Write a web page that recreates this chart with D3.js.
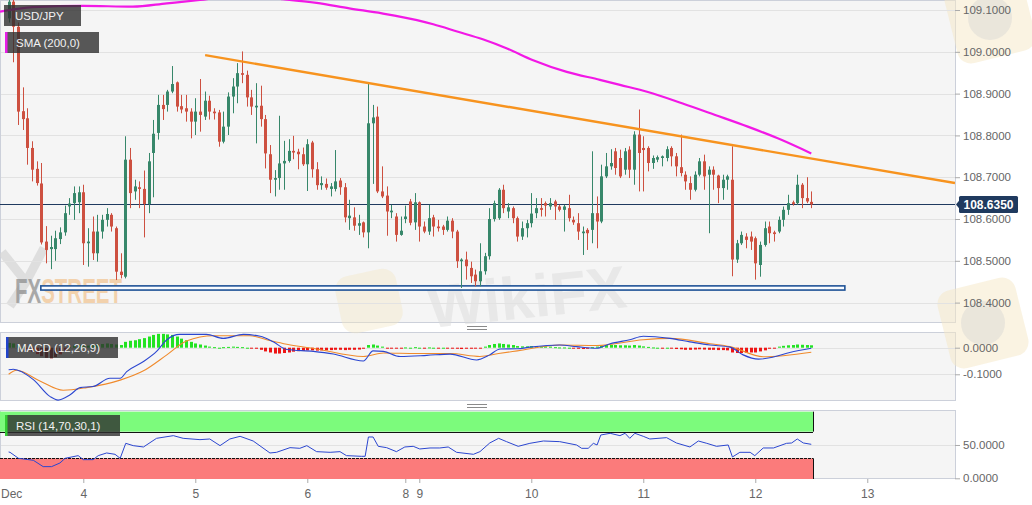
<!DOCTYPE html>
<html>
<head>
<meta charset="utf-8">
<script src="https://cdn.jsdelivr.net/npm/d3@7"></script>
<style>
  body { margin: 0; background: #fff; }
  svg { display: block; font-family: "Liberation Sans", Arial, sans-serif; }
</style>
</head>
<body>
<div id="chart"></div>
<script>
// hourly candles, index 0 of the arrays is candle k = -1 (Dec 3 08:00)
const firstIndex = -1;
const opens = [109.080,109.120,109.060,108.858,108.841,108.770,108.720,108.685,108.546,108.528,108.528,108.552,108.568,108.630,108.638,108.640,108.664,108.542,108.570,108.518,108.570,108.598,108.610,108.578,108.474,108.462,108.742,108.666,108.676,108.672,108.636,108.758,108.806,108.873,108.873,108.905,108.927,108.870,108.865,108.857,108.833,108.857,108.845,108.883,108.857,108.855,108.785,108.821,108.893,108.917,108.949,108.945,108.891,108.867,108.871,108.839,108.755,108.694,108.698,108.733,108.739,108.763,108.761,108.755,108.731,108.783,108.719,108.681,108.684,108.672,108.672,108.692,108.676,108.602,108.604,108.584,108.592,108.568,108.829,108.845,108.666,108.656,108.616,108.606,108.562,108.600,108.642,108.592,108.640,108.582,108.570,108.604,108.582,108.582,108.574,108.596,108.570,108.499,108.503,108.483,108.467,108.451,108.475,108.511,108.600,108.602,108.670,108.618,108.626,108.602,108.558,108.578,108.590,108.614,108.626,108.638,108.630,108.642,108.630,108.622,108.626,108.598,108.590,108.566,108.574,108.574,108.614,108.594,108.702,108.726,108.762,108.746,108.718,108.766,108.718,108.802,108.770,108.770,108.734,108.742,108.746,108.746,108.770,108.750,108.724,108.706,108.686,108.670,108.706,108.738,108.706,108.718,108.704,108.674,108.694,108.694,108.503,108.542,108.558,108.558,108.554,108.490,108.538,108.582,108.568,108.570,108.598,108.622,108.640,108.638,108.682,108.650,108.641];
const highs = [109.150,109.140,109.070,108.915,108.865,108.786,108.738,108.734,108.583,108.560,108.572,108.580,108.632,108.650,108.678,108.678,108.682,108.578,108.606,108.610,108.610,108.626,108.614,108.582,108.518,108.798,108.770,108.694,108.690,108.716,108.758,108.837,108.897,108.897,108.909,108.966,108.929,108.897,108.897,108.865,108.889,108.935,108.905,108.895,108.865,108.861,108.857,108.903,108.937,108.973,109.001,108.955,108.909,108.925,108.919,108.849,108.777,108.717,108.847,108.787,108.791,108.799,108.768,108.771,108.791,108.787,108.736,108.702,108.697,108.686,108.765,108.698,108.686,108.646,108.628,108.610,108.594,108.925,108.873,108.869,108.726,108.678,108.634,108.614,108.606,108.632,108.648,108.662,108.642,108.594,108.634,108.610,108.598,108.586,108.606,108.602,108.574,108.506,108.522,108.498,108.479,108.542,108.519,108.626,108.644,108.674,108.682,108.638,108.630,108.606,108.594,108.598,108.662,108.650,108.650,108.642,108.650,108.646,108.634,108.634,108.658,108.606,108.614,108.582,108.578,108.762,108.654,108.730,108.758,108.767,108.770,108.766,108.770,108.774,108.810,108.862,108.798,108.774,108.752,108.752,108.752,108.774,108.774,108.758,108.802,108.714,108.702,108.714,108.746,108.754,108.726,108.726,108.706,108.706,108.706,108.774,108.550,108.570,108.566,108.570,108.558,108.546,108.594,108.594,108.572,108.606,108.630,108.658,108.644,108.706,108.686,108.700,108.666];
const lows = [109.070,108.975,108.825,108.813,108.730,108.690,108.680,108.539,108.494,108.480,108.500,108.540,108.560,108.610,108.598,108.614,108.490,108.486,108.502,108.498,108.553,108.582,108.570,108.454,108.458,108.458,108.626,108.646,108.626,108.556,108.614,108.652,108.790,108.837,108.857,108.901,108.857,108.853,108.833,108.793,108.801,108.809,108.837,108.838,108.838,108.773,108.781,108.801,108.853,108.877,108.925,108.869,108.849,108.781,108.821,108.721,108.662,108.654,108.670,108.670,108.735,108.743,108.719,108.727,108.667,108.699,108.670,108.670,108.670,108.654,108.666,108.658,108.592,108.574,108.572,108.562,108.556,108.530,108.684,108.662,108.650,108.560,108.602,108.546,108.560,108.590,108.585,108.574,108.546,108.566,108.562,108.558,108.570,108.562,108.570,108.554,108.483,108.435,108.455,108.447,108.439,108.439,108.467,108.503,108.594,108.598,108.614,108.602,108.590,108.546,108.550,108.556,108.580,108.602,108.606,108.606,108.622,108.598,108.618,108.570,108.594,108.586,108.550,108.514,108.526,108.542,108.530,108.590,108.698,108.718,108.706,108.698,108.706,108.698,108.682,108.666,108.666,108.714,108.720,108.736,108.726,108.738,108.726,108.702,108.702,108.670,108.646,108.666,108.702,108.670,108.566,108.670,108.638,108.646,108.670,108.463,108.495,108.538,108.530,108.526,108.455,108.462,108.534,108.542,108.546,108.566,108.582,108.610,108.632,108.634,108.626,108.638,108.626];
const closes = [109.120,109.060,108.857,108.839,108.770,108.718,108.686,108.544,108.526,108.533,108.554,108.568,108.614,108.637,108.662,108.664,108.542,108.546,108.518,108.570,108.598,108.612,108.582,108.474,108.466,108.742,108.662,108.678,108.672,108.636,108.738,108.804,108.873,108.863,108.905,108.923,108.869,108.862,108.857,108.833,108.857,108.849,108.883,108.857,108.853,108.785,108.821,108.893,108.917,108.949,108.945,108.891,108.869,108.871,108.839,108.757,108.694,108.698,108.733,108.739,108.763,108.759,108.755,108.731,108.779,108.719,108.681,108.686,108.675,108.678,108.690,108.676,108.604,108.608,108.584,108.590,108.568,108.829,108.843,108.666,108.654,108.618,108.620,108.562,108.572,108.606,108.591,108.640,108.582,108.570,108.602,108.582,108.578,108.574,108.596,108.570,108.499,108.503,108.487,108.463,108.451,108.475,108.511,108.600,108.638,108.670,108.626,108.628,108.602,108.558,108.578,108.590,108.613,108.626,108.622,108.632,108.638,108.630,108.622,108.630,108.602,108.592,108.570,108.570,108.566,108.614,108.594,108.702,108.726,108.734,108.722,108.702,108.762,108.718,108.802,108.758,108.765,108.734,108.746,108.748,108.750,108.767,108.750,108.726,108.710,108.690,108.670,108.706,108.738,108.702,108.718,108.706,108.674,108.694,108.702,108.503,108.542,108.562,108.550,108.546,108.494,108.538,108.578,108.566,108.564,108.598,108.622,108.638,108.636,108.682,108.650,108.642,108.635];

// MACD histogram, one bar per candle
const macdHist = [0.018,0.016,0.010,0.002,-0.006,-0.015,-0.024,-0.032,-0.038,-0.040,-0.035,-0.025,-0.012,0.004,0.008,0.010,0.006,0.008,0.010,0.012,0.014,0.016,0.014,0.012,0.010,0.022,0.026,0.028,0.032,0.036,0.042,0.048,0.052,0.052,0.050,0.048,0.042,0.034,0.028,0.022,0.016,0.012,0.008,0.004,0.002,0.000,0.002,0.003,0.004,0.003,0.002,0.000,-0.002,-0.004,-0.008,-0.014,-0.018,-0.022,-0.022,-0.020,-0.018,-0.015,-0.013,-0.012,-0.010,-0.010,-0.011,-0.010,-0.010,-0.009,-0.008,-0.008,-0.009,-0.008,-0.008,-0.007,-0.004,0.010,0.012,0.008,0.004,-0.002,-0.002,-0.003,-0.002,0.001,0.000,0.002,0.000,-0.001,0.001,0.000,-0.001,0.000,-0.002,-0.003,-0.004,-0.005,-0.004,-0.004,-0.003,-0.001,0.004,0.010,0.014,0.016,0.014,0.012,0.010,0.006,0.005,0.005,0.006,0.006,0.005,0.005,0.004,0.002,0.001,0.001,0.000,-0.002,-0.004,-0.005,-0.004,0.002,0.004,0.008,0.010,0.011,0.010,0.009,0.009,0.008,0.010,0.008,0.005,0.003,0.001,0.000,-0.001,0.000,-0.003,-0.005,-0.006,-0.008,-0.008,-0.007,-0.006,-0.007,-0.008,-0.008,-0.009,-0.009,-0.010,-0.018,-0.020,-0.020,-0.019,-0.018,-0.018,-0.014,-0.010,-0.004,-0.001,0.004,0.007,0.009,0.010,0.012,0.011,0.010,0.009];

// MACD and signal lines, read at candle positions
const macdIdx = [-1,0,4.3,7.9,9.6,12.1,14.3,17.1,20.7,22.9,24.3,27.9,30.7,32.9,35.7,41.4,45,49.3,52.9,55.7,58.6,64.3,68.6,75,77.1,79.3,82.9,88.6,93.6,99.3,102.1,104.3,108,110.7,117.1,120.7,125,127.9,132.1,135,140.7,145,149.3,153.6,156.4,159.7,162.9,166.4,171];
const macdVal = [-0.083,-0.081,-0.120,-0.184,-0.197,-0.178,-0.150,-0.146,-0.115,-0.115,-0.090,-0.052,-0.014,0.030,0.050,0.050,0.035,0.050,0.043,0.022,-0.007,-0.014,-0.024,-0.050,-0.012,-0.014,-0.033,-0.029,-0.024,-0.046,-0.027,-0.005,-0.004,0.002,0.010,0.004,-0.002,0.015,0.030,0.043,0.035,0.022,0.010,0.002,-0.027,-0.043,-0.035,-0.018,-0.002];
const signalIdx = [-1,0.7,5.7,10.7,15.7,22.9,27.9,32.9,37.1,42.9,50.7,54.3,58.6,65,75,79.3,86.4,93.6,100,104,108,117.1,125,135,140.7,149.3,153.6,160.7,171];
const signalVal = [-0.100,-0.085,-0.125,-0.160,-0.150,-0.122,-0.087,-0.027,0.025,0.045,0.045,0.030,0.013,-0.005,-0.033,-0.020,-0.022,-0.022,-0.033,-0.022,-0.012,0.010,0.008,0.030,0.035,0.015,0.004,-0.034,-0.017];

// RSI (14)
const rsiIdx = [-1,-0.7,1.1,4.3,6.4,8.2,10,11.1,13.9,15,17.1,18.2,20,21.8,22.9,24.1,25.7,27.9,30.7,34.3,36.4,40,42.1,44.3,46.4,48.6,51.4,55,56.4,59.3,61.4,62.9,65,67.9,70,71.4,74.6,75.4,76.1,77.1,78.2,80,82.1,83.9,85.7,87.1,89.3,91.4,93.2,95,98.6,100,102.1,104,105.7,108.2,110.7,113.6,117.1,120.7,121.8,123.2,124.3,125.1,125.9,127.9,130,131.1,132.1,133.2,135,136.4,140,142.1,145,146.8,148.6,150.7,153.2,154.1,155.7,157.9,158.9,160.7,162.9,165.7,166.8,168,169.3,171];
const rsiVal = [39.5,39,30,27,17.5,17.5,23,30,34,28,28,34,38,36,30,52.5,49,47,60,64,60,58,59,49,59,63,56,38,39,46,45,49,40,39,40,34,33,33,62,62,48,46,40,47,48,44,45.5,45.5,47,39,36,40,53,60,55,48,52.5,56,55,50,45,45,52.5,50,65,67.5,64,67.5,60,67.5,63,59,61,53,47,56,52.5,48,50,32,39,39,34,45.5,45.5,52.5,53,59,53,51];
const rsiUpper = 70;
const rsiLower = 30;

// 200-period SMA
const smaIdx = [-2.85,4.2,15,25.6,32.9,40,48.6,57.8,65,72,79,86.5,90,95.3,100.6,105.8,111.4,118.6,125.7,130,136,143.3,150.4,157.4,164.7,171];
const smaVal = [109.096,109.107,109.110,109.108,109.116,109.124,109.135,109.126,109.117,109.104,109.092,109.076,109.066,109.048,109.030,109.008,108.980,108.952,108.933,108.921,108.904,108.877,108.849,108.821,108.789,108.757];

// drawn studies
const trendIdx = [41.1, 201.8];
const trendPrice = [108.992, 108.686];
const supportIdx = [5.9, 178.2];
const supportPrice = [108.430, 108.440];
const lastPrice = 108.635;

// axis ticks
const dayTickIdx = [15, 39, 63, 84, 87, 111, 135, 159, 183];
const dayLabels = ["4", "5", "6", "8", "9", "10", "11", "12", "13"];
const monthLabel = "Dec";
const priceTicks = [108.4, 108.5, 108.6, 108.7, 108.8, 108.9, 109.0, 109.1];
const macdTicks = [0, -0.1];
const rsiTicks = [0, 50];

const width = 1032, height = 505;
const plotRight = 955;
const main = {top: 0, bottom: 323};
const macdPane = {top: 332, bottom: 401};
const rsiPane = {top: 410, bottom: 479};

const upColor = "#37876a";
const downColor = "#cd5040";
const axisColor = "#666";

const svg = d3.select("#chart").append("svg")
  .attr("width", width)
  .attr("height", height);

const x = d3.scaleLinear().domain([-2.85, 201.8]).range([0, plotRight]);
const y = d3.scaleLinear().domain([108.3512, 109.124]).range([main.bottom, main.top]);
const yMacd = d3.scaleLinear().domain([-0.2004, 0.059]).range([macdPane.bottom, macdPane.top]);
const yRsi = d3.scaleLinear().domain([-1.05, 102.5]).range([rsiPane.bottom, rsiPane.top]);

const defs = svg.append("defs");
[["clipMain", main], ["clipMacd", macdPane], ["clipRsi", rsiPane]].forEach(([id, p]) => {
  defs.append("clipPath").attr("id", id)
    .append("rect")
    .attr("x", 0).attr("y", p.top)
    .attr("width", plotRight).attr("height", p.bottom - p.top);
});
// two-tone fill for the FXSTREET watermark
const fxGrad = defs.append("linearGradient").attr("id", "fxTone")
  .attr("gradientUnits", "userSpaceOnUse")
  .attr("x1", 15).attr("x2", 122).attr("y1", 0).attr("y2", 0);
[[0, "#8f8f8f"], [0.255, "#8f8f8f"], [0.255, "#f1c594"], [1, "#f1c594"]].forEach(([o, c]) => {
  fxGrad.append("stop").attr("offset", o).attr("stop-color", c);
});

// panel backgrounds
[main, macdPane, rsiPane].forEach(p => {
  svg.append("rect")
    .attr("x", 0.5).attr("y", p.top + 0.5)
    .attr("width", plotRight).attr("height", p.bottom - p.top - 1)
    .attr("fill", "#f5f5f5")
    .attr("stroke", "#ccd0da");
});

// watermarks
const wm = svg.append("g").attr("pointer-events", "none");
wm.append("path")
  .attr("d", "M2,252 L26,282 L10,306 M44,248 L26,282")
  .attr("fill", "none").attr("stroke", "#d4d4d4").attr("stroke-width", 9)
  .attr("opacity", 0.7);
wm.append("text").attr("x", 15).attr("y", 303)
  .attr("font-size", 35).attr("font-weight", "bold")
  .attr("textLength", 107).attr("lengthAdjust", "spacingAndGlyphs")
  .attr("fill", "url(#fxTone)").attr("opacity", 0.75)
  .text("FXSTREET");
wm.append("rect")
  .attr("x", 338).attr("y", 272).attr("width", 62).attr("height", 58).attr("rx", 14)
  .attr("transform", "rotate(-12 369 301)")
  .attr("fill", "#f3e6c4").attr("opacity", 0.4);
wm.append("text").attr("x", 430).attr("y", 328)
  .attr("font-size", 60).attr("font-weight", "bold")
  .attr("transform", "rotate(-6 430 328)")
  .attr("fill", "#d9d9d9").attr("opacity", 0.45).text("WikiFX");
[[983, 323], [990, 18]].forEach(([cx, cy]) => {
  wm.append("rect")
    .attr("x", cx - 40).attr("y", cy - 40).attr("width", 80).attr("height", 80).attr("rx", 14)
    .attr("transform", `rotate(-14 ${cx} ${cy})`)
    .attr("fill", "#f5e8c6").attr("opacity", 0.5);
  wm.append("circle").attr("cx", cx).attr("cy", cy).attr("r", 22)
    .attr("fill", "#d2d2d2").attr("opacity", 0.4);
});

// grid lines
function grid(ticks, scale) {
  svg.append("g").selectAll("line").data(ticks).join("line")
    .attr("x1", 1).attr("x2", plotRight)
    .attr("y1", d => Math.round(scale(d)) + 0.5)
    .attr("y2", d => Math.round(scale(d)) + 0.5)
    .attr("stroke", "#e2e2e2");
}
grid(priceTicks, y);
grid(macdTicks, yMacd);
grid([50], yRsi);

// ---- main panel ----
const gMain = svg.append("g").attr("clip-path", "url(#clipMain)");

gMain.append("rect")
  .attr("x", x(supportIdx[0])).attr("y", y(supportPrice[1]))
  .attr("width", x(supportIdx[1]) - x(supportIdx[0]))
  .attr("height", y(supportPrice[0]) - y(supportPrice[1]))
  .attr("fill", "#f8fbff").attr("stroke", "#1f5296").attr("stroke-width", 1.6);

gMain.append("line")
  .attr("x1", 0).attr("x2", plotRight)
  .attr("y1", Math.round(y(lastPrice)) + 0.5).attr("y2", Math.round(y(lastPrice)) + 0.5)
  .attr("stroke", "#1f3a5f").attr("stroke-width", 1);

const candles = opens.map((o, i) => ({
  k: firstIndex + i, o, h: highs[i], l: lows[i], c: closes[i]
}));

const cg = gMain.append("g").selectAll("g").data(candles).join("g")
  .attr("fill", d => d.c >= d.o ? upColor : downColor)
  .attr("stroke", d => d.c >= d.o ? upColor : downColor);
cg.append("line")
  .attr("x1", d => Math.round(x(d.k)) + 0.5).attr("x2", d => Math.round(x(d.k)) + 0.5)
  .attr("y1", d => y(d.h)).attr("y2", d => y(d.l))
  .attr("stroke-width", 1);
cg.append("rect")
  .attr("x", d => Math.round(x(d.k)) - 1)
  .attr("width", 3)
  .attr("y", d => y(Math.max(d.o, d.c)))
  .attr("height", d => Math.max(1, Math.abs(y(d.o) - y(d.c))))
  .attr("stroke", "none");

gMain.append("path")
  .datum(smaIdx.map((k, i) => [k, smaVal[i]]))
  .attr("fill", "none").attr("stroke", "#f218e6").attr("stroke-width", 2.2)
  .attr("d", d3.line().x(d => x(d[0])).y(d => y(d[1])).curve(d3.curveMonotoneX));

gMain.append("line")
  .attr("x1", x(trendIdx[0])).attr("y1", y(trendPrice[0]))
  .attr("x2", x(trendIdx[1])).attr("y2", y(trendPrice[1]))
  .attr("stroke", "#f7931e").attr("stroke-width", 2.4);

// ---- MACD panel ----
const gMacd = svg.append("g").attr("clip-path", "url(#clipMacd)");
gMacd.append("g").selectAll("rect").data(macdHist).join("rect")
  .attr("x", (d, i) => Math.round(x(firstIndex + i)) - 1)
  .attr("width", 3)
  .attr("y", d => yMacd(Math.max(0, d)))
  .attr("height", d => Math.max(1, Math.abs(yMacd(d) - yMacd(0))))
  .attr("fill", d => d >= 0 ? "#22e322" : (d < -0.025 ? "#8e1414" : "#ee1515"));

gMacd.append("path")
  .datum(signalIdx.map((k, i) => [k, signalVal[i]]))
  .attr("fill", "none").attr("stroke", "#f08a2c").attr("stroke-width", 1.1)
  .attr("d", d3.line().x(d => x(d[0])).y(d => yMacd(d[1])).curve(d3.curveMonotoneX));
gMacd.append("path")
  .datum(macdIdx.map((k, i) => [k, macdVal[i]]))
  .attr("fill", "none").attr("stroke", "#2b46d0").attr("stroke-width", 1.1)
  .attr("d", d3.line().x(d => x(d[0])).y(d => yMacd(d[1])).curve(d3.curveMonotoneX));

// ---- RSI panel ----
const gRsi = svg.append("g").attr("clip-path", "url(#clipRsi)");
const bandRight = Math.round(x(candles[candles.length - 1].k)) + 2;
gRsi.append("rect")
  .attr("x", 0).attr("y", yRsi(100))
  .attr("width", bandRight).attr("height", yRsi(rsiUpper) - yRsi(100))
  .attr("fill", "#7cfb7c");
gRsi.append("rect")
  .attr("x", 0).attr("y", yRsi(rsiLower))
  .attr("width", bandRight).attr("height", yRsi(-1.05) - yRsi(rsiLower))
  .attr("fill", "#fb7b7b");
gRsi.append("line")
  .attr("x1", 0).attr("x2", bandRight)
  .attr("y1", Math.round(yRsi(rsiUpper)) + 0.5).attr("y2", Math.round(yRsi(rsiUpper)) + 0.5)
  .attr("stroke", "#111");
gRsi.append("line")
  .attr("x1", 0).attr("x2", bandRight)
  .attr("y1", Math.round(yRsi(rsiLower)) + 0.5).attr("y2", Math.round(yRsi(rsiLower)) + 0.5)
  .attr("stroke", "#111").attr("stroke-dasharray", "3,1");
[[yRsi(100), yRsi(rsiUpper)], [yRsi(rsiLower), rsiPane.bottom]].forEach(([a, b]) => {
  gRsi.append("line")
    .attr("x1", bandRight + 0.5).attr("x2", bandRight + 0.5)
    .attr("y1", a).attr("y2", b).attr("stroke", "#111");
});
gRsi.append("path")
  .datum(rsiIdx.map((k, i) => [k, rsiVal[i]]))
  .attr("fill", "none").attr("stroke", "#2b46d0").attr("stroke-width", 1)
  .attr("d", d3.line().x(d => x(d[0])).y(d => yRsi(d[1])));

// ---- right axes ----
function rightAxis(scale, ticks) {
  const g = svg.append("g")
    .attr("transform", `translate(${plotRight},0)`)
    .call(d3.axisRight(scale).tickValues(ticks).tickSize(5).tickPadding(3)
      .tickFormat(v => v.toFixed(4)));
  g.select(".domain").remove();
  g.selectAll("line").attr("stroke", "#aaa");
  g.selectAll("text").attr("fill", axisColor).attr("font-size", 11.5)
    .attr("font-family", "'Liberation Sans', Arial, sans-serif");
}
rightAxis(y, priceTicks);
rightAxis(yMacd, macdTicks);
rightAxis(yRsi, rsiTicks);

// last price tag
const ly = y(lastPrice);
svg.append("path")
  .attr("d", `M${plotRight + 1},${ly} L${plotRight + 5},${ly - 5} L${plotRight + 5},${ly + 5} Z`)
  .attr("fill", "#1f3a5f");
svg.append("rect")
  .attr("x", plotRight + 4).attr("y", ly - 8.5)
  .attr("width", 59).attr("height", 17).attr("rx", 1.5)
  .attr("fill", "#1f3a5f");
svg.append("text")
  .attr("x", plotRight + 33.5).attr("y", ly + 4.5)
  .attr("text-anchor", "middle")
  .attr("font-size", 12).attr("font-weight", "bold").attr("fill", "#fff")
  .text(lastPrice.toFixed(4));

// ---- bottom axis ----
const xAxis = svg.append("g")
  .attr("transform", `translate(0,${rsiPane.bottom})`)
  .call(d3.axisBottom(x).tickValues(dayTickIdx).tickSize(4).tickPadding(6)
    .tickFormat((d, i) => dayLabels[i]));
xAxis.select(".domain").remove();
xAxis.selectAll("line").attr("stroke", "#aaa");
xAxis.selectAll("text").attr("fill", axisColor).attr("font-size", 12)
  .attr("font-family", "'Liberation Sans', Arial, sans-serif");
svg.append("text")
  .attr("x", 1).attr("y", rsiPane.bottom + 18.5)
  .attr("fill", axisColor).attr("font-size", 12)
  .text(monthLabel);

// pane resize handles
[(main.bottom + macdPane.top) / 2, (macdPane.bottom + rsiPane.top) / 2].forEach(cy => {
  [-1.5, 1.5].forEach(off => {
    svg.append("line")
      .attr("x1", 467).attr("x2", 487)
      .attr("y1", Math.round(cy + off) + 0.5).attr("y2", Math.round(cy + off) + 0.5)
      .attr("stroke", "#8a8a8a");
  });
});

// ---- legend labels ----
function label(x0, y0, w, text, stripe) {
  svg.append("rect").attr("x", x0).attr("y", y0).attr("width", w).attr("height", 21)
    .attr("fill", "rgba(48,48,48,0.8)");
  if (stripe) {
    svg.append("rect").attr("x", x0).attr("y", y0).attr("width", 2.5).attr("height", 21)
      .attr("fill", stripe);
  }
  svg.append("text").attr("x", x0 + 11).attr("y", y0 + 15)
    .attr("fill", "#f2f2f2").attr("font-size", 11.5).text(text);
}
label(4, 5, 77, "USD/JPY", null);
label(5, 32, 94, "SMA (200,0)", "#e81ee8");
label(6, 337, 112, "MACD (12,26,9)", "#2244cc");
label(5, 415, 115, "RSI (14,70,30,1)", "#33cc33");
</script>
</body>
</html>
